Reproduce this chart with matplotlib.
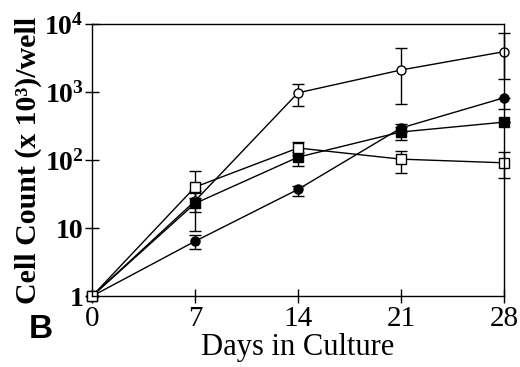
import matplotlib.pyplot as plt
import numpy as np

plt.rcParams['mathtext.fontset'] = 'custom'
plt.rcParams['mathtext.rm'] = 'Liberation Serif'
plt.rcParams['mathtext.bf'] = 'Liberation Serif:bold'

days = [0, 7, 14, 21, 28]

# open circles
oc = [1, 25, 970, 2100, 3900]
oc_lo = [0, 8, 350, 1435, 2350]
oc_hi = [0, 10, 330, 2360, 3500]

# filled circles
fc = [1, 6.4, 37, 295, 820]
fc_lo = [0, 1.5, 7, 40, 260]
fc_hi = [0, 1.5, 5, 40, 0]

# filled squares
fs = [1, 23, 110, 258, 360]
fs_lo = [0, 14, 29, 60, 0]
fs_hi = [0, 10, 20, 50, 0]

# open squares
os_ = [1, 40, 150, 103, 91]
os_lo = [0, 12, 30, 39, 37]
os_hi = [0, 29, 35, 32, 39]

fig = plt.figure(figsize=(5.2, 3.67), dpi=100)
ax = fig.add_axes([0.177, 0.193, 0.792, 0.742])

kw = dict(color='black', lw=1.0, ms=6.5, capsize=4.5, elinewidth=1.0,
          capthick=1.0, clip_on=False)
ax.errorbar(days, oc, yerr=[oc_lo, oc_hi], marker='o', mfc='white', mec='black', **kw)
ax.errorbar(days, fc, yerr=[fc_lo, fc_hi], marker='o', mfc='black', mec='black', **kw)
ax.errorbar(days, fs, yerr=[fs_lo, fs_hi], marker='s', mfc='black', mec='black', **kw)
ax.errorbar(days, os_, yerr=[os_lo, os_hi], marker='s', mfc='white', mec='black', **kw)

ax.set_yscale('log')
ax.set_ylim(1, 1e4)
ax.set_xlim(0, 28)
ax.set_xticks(days)
ax.set_xticklabels([str(d) for d in days], family='Liberation Serif', fontsize=21)
ax.set_yticks([1, 10, 100, 1000, 10000])
ax.set_yticklabels(['1', '10', r'$\mathbf{10^2}$', r'$\mathbf{10^3}$', r'$\mathbf{10^4}$'],
                   family='Liberation Serif', fontsize=20, fontweight='bold')
ax.yaxis.set_minor_locator(plt.NullLocator())
ax.tick_params(direction='inout', length=10, width=1.0, pad=2)
ax.tick_params(axis='y', pad=1)
for s in ax.spines.values():
    s.set_linewidth(1.0)

ax.set_xlabel('Days in Culture', family='Liberation Serif', fontsize=22, labelpad=1)
ax.set_ylabel('Cell Count (x 10³)/well', family='Liberation Serif', fontsize=21.5,
              fontweight='bold', labelpad=2)

fig.text(0.055, 0.08, 'B', family='Liberation Sans', fontsize=24, fontweight='bold')

fig.savefig('out.png', dpi=100)
